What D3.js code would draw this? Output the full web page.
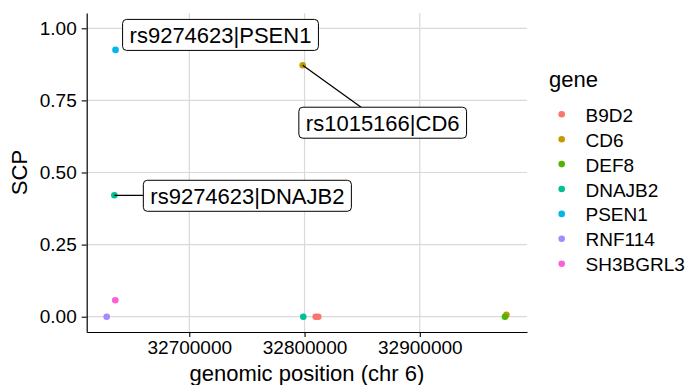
<!DOCTYPE html>
<html>
<head>
<meta charset="utf-8">
<script src="https://cdn.jsdelivr.net/npm/d3@7"></script>
<style>
  body { margin: 0; background: #fff; }
  svg { display: block; }
  text { font-family: "Liberation Sans", Arial, Helvetica, sans-serif; fill: #000; }
</style>
</head>
<body>
<svg id="chart" width="687" height="385"></svg>
<script>
// Genes and their legend colours
const genes = ["B9D2", "CD6", "DEF8", "DNAJB2", "PSEN1", "RNF114", "SH3BGRL3"];
const geneColors = ["#F8766D", "#C49A00", "#53B400", "#00C094", "#00B6EB", "#A58AFF", "#FB61D7"];

// One entry per SNP/gene pair: gene, genomic position, SCP
const pointGene = ["RNF114", "SH3BGRL3", "PSEN1", "DNAJB2", "DNAJB2", "CD6", "B9D2", "B9D2", "CD6", "DEF8"];
const pointPos  = [32628350, 32635800, 32636000, 32635000, 32798900, 32798400, 32809700, 32811900, 32975200, 32973900];
const pointScp  = [0, 0.057, 0.925, 0.421, 0, 0.872, 0, 0, 0.007, 0];

// Axis ticks
const xTicks = [32700000, 32800000, 32900000];
const yTicks = [0, 0.25, 0.50, 0.75, 1.00];

// Repelled labels: which point, text, and offset of the label centre from the point (px)
const labelPoint = [2, 5, 3];
const labelText  = ["rs9274623|PSEN1", "rs1015166|CD6", "rs9274623|DNAJB2"];
const labelDx    = [105, 80, 133];
const labelDy    = [-15, 57.5, 0.5];

const svg = d3.select("#chart");
const panel = { left: 86.7, right: 527, top: 13, bottom: 332 };

const x = d3.scaleLinear().domain([32611000, 32993000]).range([panel.left, panel.right]);
const y = d3.scaleLinear().domain([-0.053, 1.053]).range([panel.bottom, panel.top]);
const color = d3.scaleOrdinal().domain(genes).range(geneColors);

// Grid
const grid = svg.append("g").attr("stroke", "#d9d9d9").attr("stroke-width", 1.2);
grid.selectAll("line.gx").data(xTicks).join("line")
  .attr("x1", d => x(d)).attr("x2", d => x(d))
  .attr("y1", panel.top).attr("y2", panel.bottom);
grid.selectAll("line.gy").data(yTicks).join("line")
  .attr("y1", d => y(d)).attr("y2", d => y(d))
  .attr("x1", panel.left).attr("x2", panel.right);

// Axes
const xAxis = svg.append("g")
  .attr("transform", `translate(0,${panel.bottom})`)
  .call(d3.axisBottom(x).tickValues(xTicks).tickFormat(d3.format("d"))
    .tickSize(5).tickSizeOuter(0).tickPadding(4));
const yAxis = svg.append("g")
  .attr("transform", `translate(${panel.left},0)`)
  .call(d3.axisLeft(y).tickValues(yTicks).tickFormat(d3.format(".2f"))
    .tickSize(5).tickSizeOuter(0).tickPadding(5));
[xAxis, yAxis].forEach(a => {
  a.selectAll("path.domain").attr("stroke", "#000").attr("stroke-width", 1.2);
  a.selectAll(".tick line").attr("stroke", "#000").attr("stroke-width", 1.1);
  a.selectAll(".tick text").attr("font-size", 19).attr("fill", "#000")
    .style("font-family", "'Liberation Sans', Arial, sans-serif");
});

// Axis titles
svg.append("text")
  .attr("x", (panel.left + panel.right) / 2).attr("y", 381)
  .attr("text-anchor", "middle").attr("font-size", 22)
  .text("genomic position (chr 6)");
svg.append("text")
  .attr("transform", `translate(27,${(panel.top + panel.bottom) / 2}) rotate(-90)`)
  .attr("text-anchor", "middle").attr("font-size", 22)
  .text("SCP");

// Points
const idx = d3.range(pointGene.length);
svg.append("g").selectAll("circle").data(idx).join("circle")
  .attr("cx", i => x(pointPos[i]))
  .attr("cy", i => y(pointScp[i]))
  .attr("r", 3.3)
  .attr("fill", i => color(pointGene[i]));

// Labels with connector segments
const labelG = svg.append("g");
const padX = 7, boxH = 31, fs = 22;
labelText.forEach((t, k) => {
  const pi = labelPoint[k];
  const px = x(pointPos[pi]), py = y(pointScp[pi]);
  const cx = px + labelDx[k], cy = py + labelDy[k];
  const g = labelG.append("g");
  const rect = g.append("rect");
  const txt = g.append("text")
    .attr("x", cx).attr("y", cy + fs * 0.36)
    .attr("text-anchor", "middle").attr("font-size", fs).text(t);
  const w = txt.node().getComputedTextLength() + 2 * padX;
  const x0 = cx - w / 2, y0 = cy - boxH / 2;
  rect.attr("x", x0).attr("y", y0).attr("width", w).attr("height", boxH)
    .attr("rx", 4).attr("ry", 4)
    .attr("fill", "#fff").attr("stroke", "#000").attr("stroke-width", 1);
  // segment from the point to where the line towards the label centre meets the box
  const dx = cx - px, dy = cy - py;
  const tx = dx !== 0 ? (Math.abs(dx) - w / 2) / Math.abs(dx) : -Infinity;
  const ty = dy !== 0 ? (Math.abs(dy) - boxH / 2) / Math.abs(dy) : -Infinity;
  const s = Math.max(tx, ty);
  const ex = px + dx * s, ey = py + dy * s;
  const len = Math.hypot(ex - px, ey - py);
  if (s > 0 && len > 10) {
    g.insert("line", "rect")
      .attr("x1", px).attr("y1", py).attr("x2", ex).attr("y2", ey)
      .attr("stroke", "#000").attr("stroke-width", 1.3);
  }
});

// Legend
const legend = svg.append("g");
legend.append("text").attr("x", 549).attr("y", 87).attr("font-size", 22).text("gene");
genes.forEach((gname, i) => {
  const cy = 114.3 + i * 24.9;
  legend.append("circle").attr("cx", 561.7).attr("cy", cy).attr("r", 3.3).attr("fill", color(gname));
  legend.append("text").attr("x", 585.5).attr("y", cy + 7.5).attr("font-size", 19).text(gname);
});
</script>
</body>
</html>
